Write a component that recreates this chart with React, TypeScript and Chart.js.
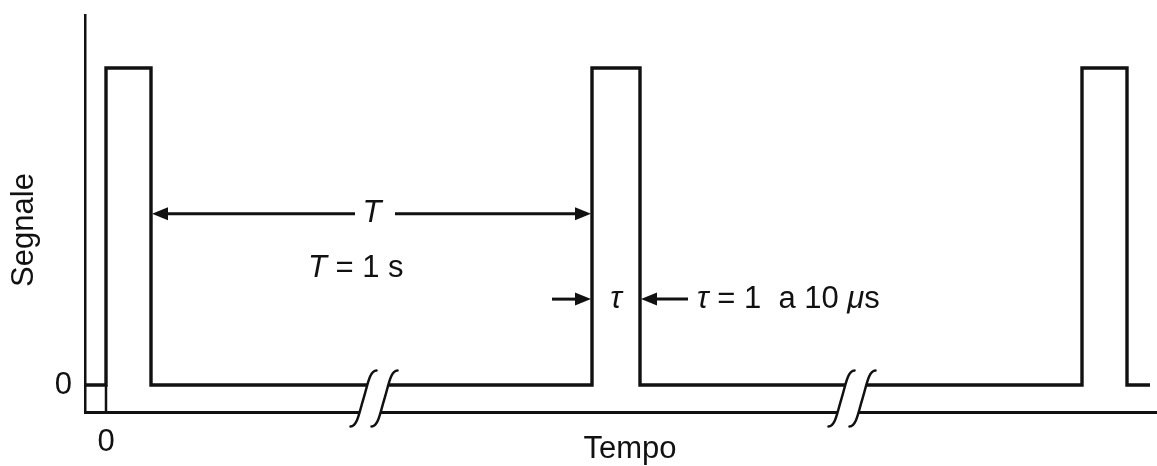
import React, { useEffect, useRef } from "react";
import { Chart, registerables } from "chart.js";

Chart.register(...registerables);

// Schematic time units (arbitrary) and signal level (0 = baseline, 1 = pulse top)
const signalX = [-21, 0, 0, 45, 45, 486, 486, 534, 534, 976, 976, 1021, 1021, 1044];
const signalY = [0, 0, 1, 1, 0, 0, 1, 1, 0, 0, 1, 1, 0, 0];
const originTickX = [0, 0];
const originTickY = [-0.085, 0];
const axisBreaks = [268, 746];
const xTickValues = [0];
const yTickValues = [0];
const xTickLabels = ["0"];
const yTickLabels = ["0"];

const X_MIN = -21;
const X_MAX = 1051;
const Y_MIN = -0.085;
const Y_MAX = 1.167;

const INK = "#111111";
const FONT = '"Liberation Sans", Arial, sans-serif';

function drawArrow(ctx: CanvasRenderingContext2D, x1: number, y: number, x2: number) {
  const dir = x2 > x1 ? 1 : -1;
  const head = 16;
  ctx.beginPath();
  ctx.moveTo(x1, y);
  ctx.lineTo(x2 - dir * head + dir * 2, y);
  ctx.stroke();
  ctx.beginPath();
  ctx.moveTo(x2, y);
  ctx.lineTo(x2 - dir * head, y - 6.5);
  ctx.lineTo(x2 - dir * head, y + 6.5);
  ctx.closePath();
  ctx.fill();
}

function breakCurve(ctx: CanvasRenderingContext2D, mx: number, my: number, h: number, first: boolean) {
  const w = 13;
  if (first) ctx.moveTo(mx - w, my + h);
  ctx.bezierCurveTo(mx - 6, my + h, mx - 4, my + h * 0.45, mx, my);
  ctx.bezierCurveTo(mx + 4, my - h * 0.45, mx + 6, my - h, mx + w, my - h);
}

function breakCurveRev(ctx: CanvasRenderingContext2D, mx: number, my: number, h: number) {
  const w = 13;
  ctx.lineTo(mx + w, my - h);
  ctx.bezierCurveTo(mx + 6, my - h, mx + 4, my - h * 0.45, mx, my);
  ctx.bezierCurveTo(mx - 4, my + h * 0.45, mx - 6, my + h, mx - w, my + h);
}

const annotationPlugin = {
  id: "schematicAnnotations",
  afterDatasetsDraw(chart: any) {
    const ctx: CanvasRenderingContext2D = chart.ctx;
    const xs = chart.scales.x;
    const ys = chart.scales.y;
    const px = (v: number) => xs.getPixelForValue(v);
    const py = (v: number) => ys.getPixelForValue(v);

    ctx.save();
    // axis breaks
    const yMid = (py(0) + py(Y_MIN)) / 2;
    const h = 28;
    axisBreaks.forEach((b) => {
      const cx = px(b);
      const off = 10.5;
      ctx.beginPath();
      breakCurve(ctx, cx - off, yMid, h, true);
      breakCurveRev(ctx, cx + off, yMid, h);
      ctx.closePath();
      ctx.fillStyle = "#ffffff";
      ctx.fill();
      ctx.strokeStyle = INK;
      ctx.lineWidth = 2.5;
      ctx.lineCap = "round";
      ctx.beginPath();
      breakCurve(ctx, cx - off, yMid, h, true);
      ctx.stroke();
      ctx.beginPath();
      breakCurve(ctx, cx + off, yMid, h, true);
      ctx.stroke();
    });

    ctx.strokeStyle = INK;
    ctx.fillStyle = INK;
    ctx.lineWidth = 3;
    ctx.lineCap = "butt";

    // period arrow T
    const yT = py(0.54);
    drawArrow(ctx, px(249), yT, px(45) + 1);
    drawArrow(ctx, px(289), yT, px(486) - 1);
    ctx.font = `italic 31px ${FONT}`;
    ctx.textAlign = "center";
    ctx.textBaseline = "middle";
    ctx.fillText("T", px(266), yT);

    // T = 1 s
    ctx.font = `italic 31px ${FONT}`;
    ctx.textAlign = "left";
    const tLeft = px(202);
    const yT2 = py(0.369);
    ctx.fillText("T", tLeft, yT2);
    const wT = ctx.measureText("T").width;
    ctx.font = `31px ${FONT}`;
    ctx.fillText(" = 1 s", tLeft + wT, yT2);

    // tau arrows
    const yTau = py(0.271);
    drawArrow(ctx, px(446), yTau, px(486) - 1);
    drawArrow(ctx, px(582), yTau, px(534) + 1);
    ctx.font = `italic 31px ${FONT}`;
    ctx.textAlign = "center";
    ctx.fillText("τ", px(510), yTau);

    // tau = 1 a 10 μs
    const parts: [string, boolean][] = [["τ", true], [" = 1  a 10 ", false], ["μ", true], ["s", false]];
    let x = px(591);
    ctx.textAlign = "left";
    parts.forEach(([t, it]) => {
      ctx.font = `${it ? "italic " : ""}31px ${FONT}`;
      ctx.fillText(t, x, yTau);
      x += ctx.measureText(t).width;
    });

    // axis titles
    ctx.font = `31px ${FONT}`;
    ctx.textAlign = "center";
    ctx.textBaseline = "alphabetic";
    ctx.fillText("Tempo", 630, 458);
    ctx.save();
    ctx.translate(33, 230);
    ctx.rotate(-Math.PI / 2);
    ctx.fillText("Segnale", 0, 0);
    ctx.restore();

    ctx.restore();
  },
};

export default function App() {
  const canvasRef = useRef<HTMLCanvasElement | null>(null);

  useEffect(() => {
    if (!canvasRef.current) return;
    const chart = new Chart(canvasRef.current, {
      type: "line",
      data: {
        datasets: [
          {
            label: "Segnale",
            data: signalX.map((x, i) => ({ x, y: signalY[i] })),
            borderColor: INK,
            borderWidth: 3.4,
            pointRadius: 0,
            tension: 0,
            fill: false,
            borderJoinStyle: "miter",
          },
          {
            label: "origin",
            data: originTickX.map((x, i) => ({ x, y: originTickY[i] })),
            borderColor: INK,
            borderWidth: 2.5,
            pointRadius: 0,
            fill: false,
          },
        ],
      },
      options: {
        animation: false,
        responsive: false,
        maintainAspectRatio: false,
        layout: { padding: { top: 15, right: 0, left: 0, bottom: 0 } },
        plugins: { legend: { display: false }, tooltip: { enabled: false }, title: { display: false } },
        scales: {
          x: {
            type: "linear",
            min: X_MIN,
            max: X_MAX,
            afterBuildTicks: (s: any) => {
              s.ticks = xTickValues.map((v) => ({ value: v }));
            },
            afterFit: (s: any) => {
              s.height = 54;
              s.paddingLeft = 0;
              s.paddingRight = 0;
            },
            ticks: {
              color: INK,
              font: { family: FONT, size: 31 },
              padding: 12,
              callback: (v: any) => xTickLabels[xTickValues.indexOf(Number(v))] ?? "",
            },
            grid: { display: true, drawOnChartArea: false, drawTicks: false },
            border: { display: true, color: INK, width: 3 },
          },
          y: {
            type: "linear",
            min: Y_MIN,
            max: Y_MAX,
            afterBuildTicks: (s: any) => {
              s.ticks = yTickValues.map((v) => ({ value: v }));
            },
            afterFit: (s: any) => {
              s.width = 85;
              s.paddingTop = 0;
              s.paddingBottom = 0;
            },
            ticks: {
              color: INK,
              font: { family: FONT, size: 31 },
              padding: 13,
              callback: (v: any) => yTickLabels[yTickValues.indexOf(Number(v))] ?? "",
            },
            grid: { display: true, drawOnChartArea: false, drawTicks: false },
            border: { display: true, color: INK, width: 2.5 },
          },
        },
      },
      plugins: [annotationPlugin],
    } as any);
    return () => chart.destroy();
  }, []);

  return (
    <div style={{ position: "fixed", left: 0, top: 0, width: 1157, height: 466, background: "#fff" }}>
      <canvas ref={canvasRef} width={1157} height={466} />
    </div>
  );
}
